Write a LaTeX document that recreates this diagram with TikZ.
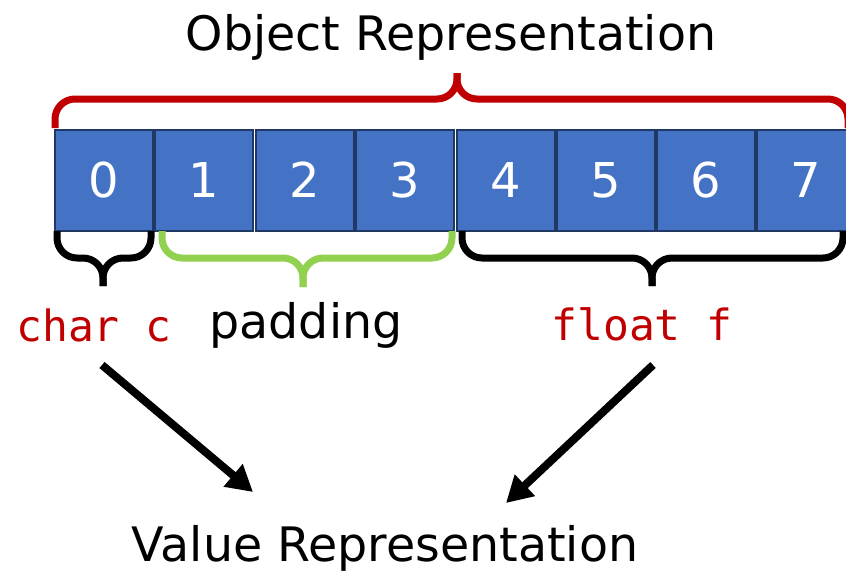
\documentclass[tikz,border=0pt]{standalone}
\usepackage{fontspec}
\setmainfont{DejaVu Sans}
\setmonofont{DejaVu Sans Mono}
\usetikzlibrary{arrows.meta}
\definecolor{boxblue}{HTML}{4472C4}
\definecolor{boxedge}{HTML}{203864}
\definecolor{codered}{HTML}{C00000}
\definecolor{padgreen}{HTML}{92D050}
\begin{document}
\begin{tikzpicture}[x=1pt,y=-1pt,
  byte/.style={draw=boxedge, line width=2pt, fill=boxblue, minimum width=98pt, minimum height=101pt, inner sep=0pt, text=white, font=\fontsize{48}{56}\selectfont},
  bracepath/.style={line width=7pt, rounded corners=20pt},
  arr/.style={line width=8pt, -{Triangle[length=26pt,width=28pt]}},
  bigtext/.style={anchor=base, font=\fontsize{47.5}{56}\selectfont},
  codetext/.style={anchor=base, text=codered, font=\ttfamily\fontsize{43}{50}\selectfont}]
\useasboundingbox (0,0) rectangle (846,571);
\clip (0,0) rectangle (846,571);
% bytes
\foreach \i/\cx in {0/103.5,1/204,2/304.5,3/405,4/506,5/606,6/706,7/806}
  \node[byte] (b\i) at (\cx,180) {\i};
% object representation brace
\draw[bracepath, codered] (55,128) |- (457,99) -- (457,73);
\draw[bracepath, codered] (848,128) |- (457,99) -- (457,73);
% char c brace
\draw[bracepath] (57,231) |- (103,258) -- (103,286);
\draw[bracepath] (151,231) |- (103,258) -- (103,286);
% padding brace
\draw[bracepath, padgreen] (162,231) |- (303,258) -- (303,287);
\draw[bracepath, padgreen] (452,231) |- (303,258) -- (303,287);
% float f brace
\draw[bracepath] (462,231) |- (652,258) -- (652,286);
\draw[bracepath] (843,231) |- (652,258) -- (652,286);
% texts
\node[bigtext] (title) at (451,50) {Object Representation};
\node[bigtext] (value) at (385,561) {Value Representation};
\node[codetext] (charc) at (94,341) {char c};
\node[bigtext] (padding) at (306,338) {padding};
\node[codetext] (floatf) at (642,340) {float f};
% arrows
\coordinate (a1s) at (102,365);
\coordinate (a1e) at (253,492);
\coordinate (a2s) at (653,365);
\coordinate (a2e) at (506,503);
\draw[arr] (a1s) -- (a1e);
\draw[arr] (a2s) -- (a2e);
\end{tikzpicture}
\end{document}
